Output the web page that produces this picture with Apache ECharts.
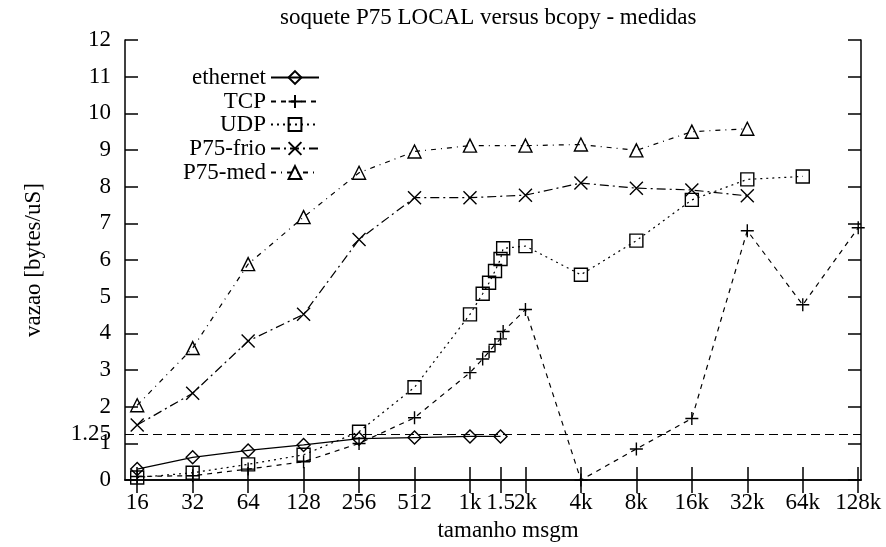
<!DOCTYPE html>
<html>
<head>
<meta charset="utf-8">
<script src="https://cdn.jsdelivr.net/npm/echarts@6/dist/echarts.min.js"></script>
<style>html,body{margin:0;padding:0;background:#fff}#c{width:886px;height:547px}</style>
</head>
<body>
<div id="c"></div>
<script>
// ---- data (message size in bytes, throughput in bytes/uS) ----
const tickSizes  = [16, 32, 64, 128, 256, 512, 1024, 1500, 2048, 4096, 8192, 16384, 32768, 65536, 131072];
const tickLabels = ['16', '32', '64', '128', '256', '512', '1k', '1.5', '2k', '4k', '8k', '16k', '32k', '64k', '128k'];
const yTicks = [0, 1, 2, 3, 4, 5, 6, 7, 8, 9, 10, 11, 12];
const yExtraLabel = 1.25;
const refLevel = 1.25;

const ethernetSizes  = [16, 32, 64, 128, 256, 512, 1024, 1500];
const ethernetValues = [0.30, 0.62, 0.81, 0.96, 1.13, 1.16, 1.19, 1.19];

const tcpSizes  = [16, 32, 64, 128, 256, 512, 1024, 1200, 1300, 1400, 1500, 1550, 2048, 4096, 8192, 16384, 32768, 65536, 131072];
const tcpValues = [0.10, 0.12, 0.30, 0.50, 1.00, 1.70, 2.93, 3.30, 3.50, 3.70, 3.85, 4.05, 4.65, 0.00, 0.85, 1.68, 6.80, 4.78, 6.88];

const udpSizes  = [16, 32, 64, 128, 256, 512, 1024, 1200, 1300, 1400, 1500, 1550, 2048, 4096, 8192, 16384, 32768, 65536];
const udpValues = [0.07, 0.20, 0.43, 0.69, 1.32, 2.53, 4.52, 5.08, 5.38, 5.70, 6.03, 6.32, 6.38, 5.60, 6.53, 7.64, 8.20, 8.28];

const p75Sizes     = [16, 32, 64, 128, 256, 512, 1024, 2048, 4096, 8192, 16384, 32768];
const p75FrioValues = [1.50, 2.37, 3.79, 4.52, 6.56, 7.70, 7.70, 7.77, 8.10, 7.96, 7.91, 7.75];
const p75MedValues  = [2.04, 3.60, 5.89, 7.17, 8.38, 8.96, 9.12, 9.12, 9.15, 8.99, 9.50, 9.58];

// ---- chart ----
const FONT = 'Liberation Serif';
const FS = 23;
const xMin = 3.78, xMax = 17.05;
const tickPos = tickSizes.map(s => Math.log2(s));

function labelFor(v) {
  for (let i = 0; i < tickPos.length; i++) if (Math.abs(tickPos[i] - v) < 1e-6) return tickLabels[i];
  return '';
}

const plusPath = 'path://M5,0L5,10M0,5L10,5';
const crossPath = 'path://M0,0L10,10M10,0L0,10';

function mk(name, sizes, values, symbol, dash, extra) {
  return Object.assign({
    name: name,
    type: 'line',
    data: sizes.map((s, i) => [Math.log2(s), values[i]]),
    symbol: symbol,
    symbolSize: 13,
    showAllSymbol: true,
    lineStyle: { color: '#000', width: 1.2, type: dash },
    itemStyle: { color: 'rgba(0,0,0,0)', borderColor: '#000', borderWidth: 1.4 },
    emphasis: { disabled: true },
    z: 3
  }, extra || {});
}

const series = [
  mk('ethernet', ethernetSizes, ethernetValues, 'diamond', 'solid', {
    markLine: {
      silent: true, symbol: 'none', label: { show: false },
      lineStyle: { color: '#000', width: 1.2, type: [9, 5] },
      data: [{ yAxis: refLevel }]
    }
  }),
  mk('TCP', tcpSizes, tcpValues, plusPath, [5, 5]),
  mk('UDP', udpSizes, udpValues, 'rect', [2, 4]),
  mk('P75-frio', p75Sizes, p75FrioValues, crossPath, [9, 4, 2, 4]),
  mk('P75-med', p75Sizes, p75MedValues, 'triangle', [5, 5, 1, 5])
];

const rowY = [78, 102, 125, 149, 173];
const legends = series.map((s, i) => ({
  data: [s.name],
  orient: 'vertical',
  align: 'right',
  right: 886 - 320,
  top: rowY[i] - 12,
  padding: 0,
  itemWidth: 48,
  itemHeight: 16,
  selectedMode: false,
  textStyle: { fontFamily: FONT, fontSize: FS, color: '#000' }
}));

const axisLineStyle = { show: true, lineStyle: { color: '#000', width: 1.5 } };

const option = {
  animation: false,
  backgroundColor: '#fff',
  title: {
    text: 'soquete P75 LOCAL versus bcopy - medidas',
    left: 280, top: 6, padding: 0,
    textStyle: { fontFamily: FONT, fontSize: FS, fontWeight: 'normal', color: '#000' }
  },
  legend: legends,
  grid: { left: 125, right: 25, top: 40, bottom: 61, containLabel: false },
  xAxis: [{
    type: 'value', min: xMin, max: xMax, position: 'bottom',
    name: 'tamanho msgm', nameLocation: 'middle', nameGap: 32,
    nameTextStyle: { fontFamily: FONT, fontSize: FS, color: '#000', padding: [0, 0, 0, 30] },
    axisLine: axisLineStyle,
    axisTick: { show: true, inside: true, length: 13, customValues: tickPos, lineStyle: { color: '#000', width: 1.5 } },
    axisLabel: { customValues: tickPos, formatter: labelFor, margin: 11, fontFamily: FONT, fontSize: FS, color: '#000' },
    splitLine: { show: false }
  }, {
    type: 'value', min: xMin, max: xMax, position: 'top',
    axisLine: axisLineStyle,
    axisTick: { show: true, inside: true, length: 13, customValues: tickPos, lineStyle: { color: '#000', width: 1.5 } },
    axisLabel: { show: false },
    splitLine: { show: false }
  }],
  yAxis: [{
    type: 'value', min: 0, max: 12, position: 'left',
    name: 'vazao [bytes/uS]', nameLocation: 'middle', nameGap: 80,
    nameTextStyle: { fontFamily: FONT, fontSize: FS, color: '#000' },
    axisLine: axisLineStyle,
    axisTick: { show: true, inside: true, length: 13, customValues: yTicks, lineStyle: { color: '#000', width: 1.5 } },
    axisLabel: { customValues: yTicks.concat([yExtraLabel]), margin: 14, fontFamily: FONT, fontSize: FS, color: '#000',
      formatter: v => (Math.abs(v - yExtraLabel) < 1e-9 ? '1.25' : String(v)) },
    splitLine: { show: false }
  }, {
    type: 'value', min: 0, max: 12, position: 'right',
    axisLine: axisLineStyle,
    axisTick: { show: true, inside: true, length: 13, customValues: yTicks, lineStyle: { color: '#000', width: 1.5 } },
    axisLabel: { show: false },
    splitLine: { show: false }
  }],
  series: series
};

const chart = echarts.init(document.getElementById('c'), null, { renderer: 'canvas' });
chart.setOption(option);
</script>
</body>
</html>
